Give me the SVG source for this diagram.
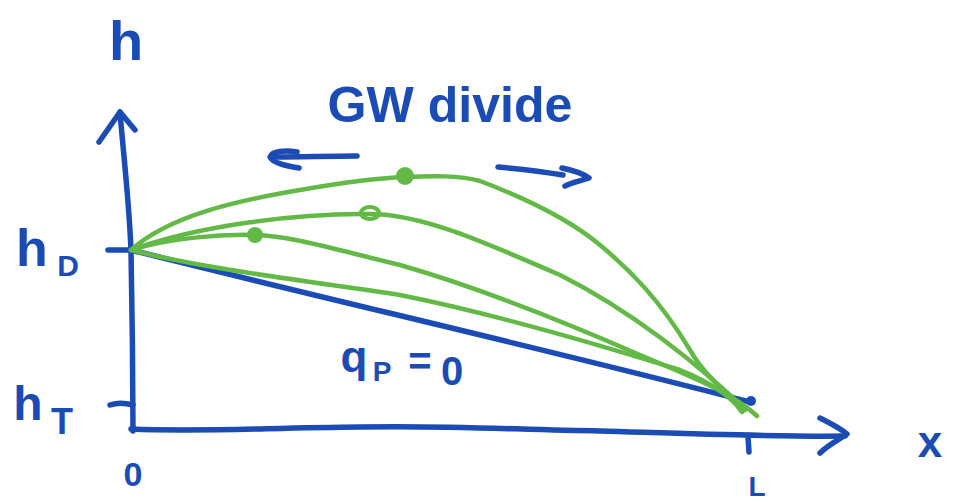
<svg xmlns="http://www.w3.org/2000/svg" width="953" height="504" viewBox="0 0 953 504">
<style>
.b{fill:none;stroke:#1b4bb4;stroke-width:5.5;stroke-linecap:round;stroke-linejoin:round}
.g{fill:none;stroke:#62b946;stroke-width:4.5;stroke-linecap:round;stroke-linejoin:round}
.t{fill:#1b4bb4;font-family:"Liberation Sans",Arial,sans-serif;font-weight:bold}
</style>
<rect width="953" height="504" fill="#fff"/>
<g id="axes">
<path class="b" d="M133,431 C133,380 132,300 131,250 C129,200 123,150 120,112"/>
<path class="b" d="M99,142 L120,112 L135,130"/>
<path class="b" d="M131,429 C200,432 260,428 360,427 C450,425 520,430 600,431 C700,434 780,437 845,436"/>
<path class="b" d="M820,418 C830,423 840,428 847,434 C838,440 828,445 820,453"/>
<path class="b" d="M108,250 L131,250"/>
<path class="b" d="M110,405 C118,402 126,403 133,405"/>
<path class="b" d="M748,437 L749,452"/>
</g>
<g id="labels">
<text class="t" x="126" y="60" font-size="56" text-anchor="middle">h</text>
<text class="t" x="32" y="266" font-size="52" text-anchor="middle">h</text>
<text class="t" x="68" y="276" font-size="30" text-anchor="middle">D</text>
<text class="t" x="28" y="420" font-size="48" text-anchor="middle">h</text>
<text class="t" x="62" y="434" font-size="36" text-anchor="middle">T</text>
<text class="t" x="133" y="486" font-size="34" text-anchor="middle">0</text>
<text class="t" x="757" y="496" font-size="28" text-anchor="middle">L</text>
<text class="t" x="930" y="457" font-size="44" text-anchor="middle">x</text>
<text class="t" x="450" y="122" font-size="50" text-anchor="middle" textLength="245" lengthAdjust="spacingAndGlyphs">GW divide</text>
<text class="t" x="354" y="372" font-size="44" text-anchor="middle">q</text>
<text class="t" x="382" y="381" font-size="28" text-anchor="middle">P</text>
<text class="t" x="420" y="375" font-size="40" text-anchor="middle">=</text>
<text class="t" x="452" y="385" font-size="40" text-anchor="middle">0</text>
</g>
<g id="connectors">
<path class="b" d="M131,250 C330,300 550,350 750,402"/>
<circle cx="751" cy="401" r="5" fill="#1b4bb4"/>
<path class="b" d="M357,156 C330,156 300,157 275,157"/>
<path class="b" d="M297,152 C285,150 272,151 270,157 C272,163 288,166 299,168"/>
<path class="b" d="M498,167 C520,169 545,172 563,175"/>
<path class="b" d="M562,168 C572,170 582,173 589,178 C580,181 570,183 565,186"/>
</g>
<g id="curves">
<path class="g" d="M131,250 C170,215 240,200 300,190 C340,183 380,178 405,177 C430,176 460,175 480,181 C530,200 570,220 600,245 C630,270 660,300 690,350 C710,385 735,395 745,410"/>
<path class="g" d="M131,250 C200,225 300,213 370,214 C420,214 480,240 560,275 C630,310 700,365 745,410"/>
<path class="g" d="M131,250 C170,238 220,234 255,235 C290,236 330,248 400,265 C470,285 560,320 640,355 C700,380 735,395 757,416"/>
<path class="g" d="M131,250 C200,268 300,280 400,295 C500,315 600,345 680,370 C710,382 730,395 742,412"/>
<circle cx="405" cy="176" r="9" fill="#62b946"/>
<circle cx="255" cy="235" r="8" fill="#62b946"/>
<ellipse cx="370" cy="213" rx="9" ry="6" fill="none" stroke="#62b946" stroke-width="4"/>
</g>
</svg>
